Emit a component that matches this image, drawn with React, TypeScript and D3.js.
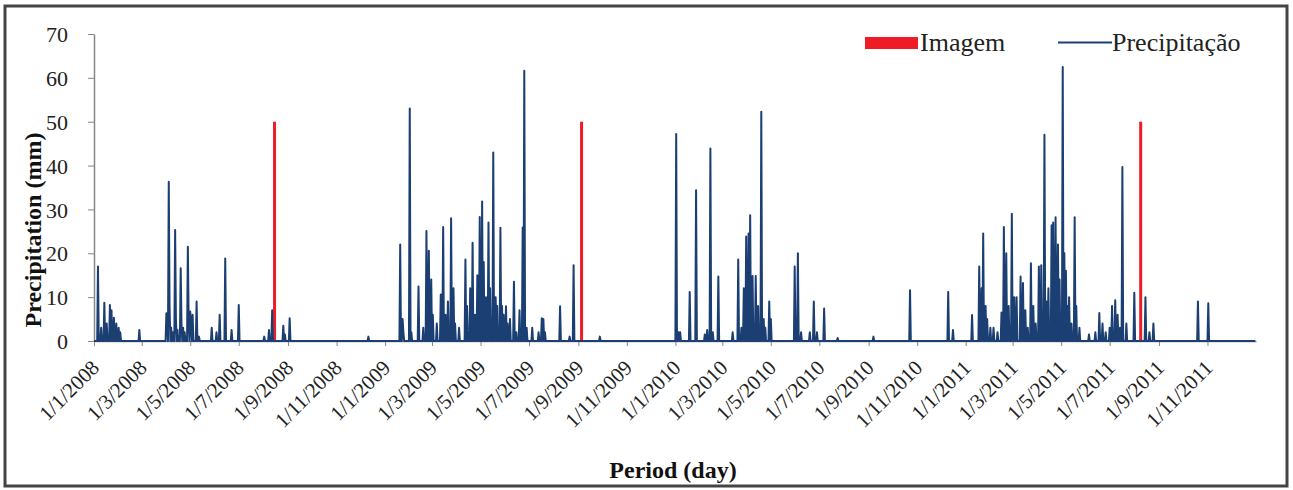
import React, { useEffect, useRef } from "react";
import * as d3 from "d3";

// daily precipitation (mm), only the rainy days are listed, every other day is 0
const rain2008Dates = ["2008-01-06", "2008-01-10", "2008-01-14", "2008-01-17", "2008-01-21", "2008-01-23", "2008-01-26", "2008-01-29", "2008-02-01", "2008-02-03", "2008-02-27", "2008-04-01", "2008-04-02", "2008-04-04", "2008-04-05", "2008-04-07", "2008-04-09", "2008-04-12", "2008-04-13", "2008-04-15", "2008-04-19", "2008-04-20", "2008-04-22", "2008-04-24", "2008-04-28", "2008-04-29", "2008-05-01", "2008-05-02", "2008-05-04", "2008-05-09", "2008-05-12", "2008-05-28", "2008-06-03", "2008-06-07", "2008-06-14", "2008-06-22", "2008-07-01", "2008-08-02", "2008-08-08", "2008-08-12", "2008-08-26", "2008-08-28", "2008-09-03", "2008-12-11"];
const rain2008Values = [17, 3, 8.7, 4, 8.2, 7, 5.3, 4, 3, 2, 2.5, 6.3, 4, 36.3, 8, 3, 2, 25.3, 5, 2.5, 16.6, 4, 3, 2, 21.5, 5, 6.7, 4, 6, 9, 1, 3, 2, 6, 18.8, 2.5, 8.2, 1, 2.5, 7, 3.5, 1.5, 5.2, 1];

const rain2009Dates = ["2009-01-20", "2009-01-23", "2009-01-24", "2009-02-01", "2009-02-03", "2009-02-12", "2009-02-18", "2009-02-22", "2009-02-25", "2009-02-28", "2009-03-02", "2009-03-07", "2009-03-12", "2009-03-15", "2009-03-18", "2009-03-21", "2009-03-25", "2009-03-28", "2009-03-30", "2009-04-04", "2009-04-12", "2009-04-14", "2009-04-18", "2009-04-21", "2009-04-24", "2009-04-27", "2009-04-30", "2009-05-03", "2009-05-05", "2009-05-08", "2009-05-11", "2009-05-13", "2009-05-17", "2009-05-20", "2009-05-22", "2009-05-26", "2009-05-28", "2009-05-30", "2009-06-02", "2009-06-04", "2009-06-07", "2009-06-12", "2009-06-15", "2009-06-19", "2009-06-23", "2009-06-25", "2009-06-28", "2009-07-05", "2009-07-13", "2009-07-17", "2009-07-19", "2009-07-21", "2009-08-09", "2009-08-21", "2009-08-26", "2009-09-28"];
const rain2009Values = [22, 5, 2, 53, 2, 12.4, 3, 25.1, 20.6, 14, 6, 4, 10.6, 26, 6, 9, 28, 12, 4, 3, 18.6, 8, 12, 22.4, 6, 15, 28.3, 31.8, 18, 10, 27, 12, 43, 10, 8, 25.8, 8, 6, 7.9, 4, 5, 13.5, 2, 7, 25.9, 61.6, 3, 3, 2, 5.2, 5, 2, 7.9, 1, 17.3, 1];

const rain2010Dates = ["2010-01-02", "2010-01-05", "2010-01-07", "2010-01-19", "2010-01-27", "2010-02-07", "2010-02-10", "2010-02-14", "2010-02-17", "2010-02-24", "2010-03-14", "2010-03-21", "2010-03-25", "2010-03-28", "2010-03-31", "2010-04-03", "2010-04-05", "2010-04-08", "2010-04-12", "2010-04-15", "2010-04-19", "2010-04-22", "2010-04-24", "2010-04-29", "2010-05-01", "2010-05-31", "2010-06-04", "2010-06-08", "2010-06-19", "2010-06-24", "2010-06-28", "2010-07-07", "2010-07-24", "2010-09-07", "2010-10-23", "2010-12-10", "2010-12-16"];
const rain2010Values = [47.2, 2, 2, 11.2, 34.4, 1.5, 2.5, 43.9, 2, 14.7, 2, 18.6, 3, 12, 23.8, 24.5, 28.7, 14.8, 14.8, 8, 52.3, 5, 3, 9, 5, 17, 20, 2, 2, 9, 2, 7.4, 0.7, 1, 11.6, 11.2, 2.5];

const rain2011Dates = ["2011-01-09", "2011-01-18", "2011-01-21", "2011-01-23", "2011-01-26", "2011-01-28", "2011-02-01", "2011-02-05", "2011-02-10", "2011-02-15", "2011-02-18", "2011-02-21", "2011-02-24", "2011-02-28", "2011-03-03", "2011-03-06", "2011-03-11", "2011-03-14", "2011-03-17", "2011-03-20", "2011-03-24", "2011-03-27", "2011-03-30", "2011-04-03", "2011-04-06", "2011-04-10", "2011-04-13", "2011-04-15", "2011-04-19", "2011-04-21", "2011-04-24", "2011-04-27", "2011-04-29", "2011-05-03", "2011-05-05", "2011-05-07", "2011-05-09", "2011-05-11", "2011-05-14", "2011-05-18", "2011-05-20", "2011-05-24", "2011-06-05", "2011-06-13", "2011-06-18", "2011-06-22", "2011-06-26", "2011-07-01", "2011-07-04", "2011-07-08", "2011-07-11", "2011-07-14", "2011-07-17", "2011-07-22", "2011-08-01", "2011-08-15", "2011-08-20", "2011-08-25", "2011-10-20", "2011-11-02"];
const rain2011Values = [5.9, 17, 12, 24.5, 8, 5, 3, 3, 2, 6.5, 26, 20, 8, 29, 10, 10, 14.7, 13.2, 7, 3, 17.7, 8, 4, 17, 17.3, 47, 9, 12, 26.4, 27, 28.2, 22, 14, 62.5, 20, 16, 8, 10, 4, 28.2, 8, 3, 1.5, 2, 6.4, 4, 2, 3, 8, 9.3, 6, 3, 39.7, 4, 11, 10, 2, 4, 9, 8.6];

// dates of the images
const imageDates = ["2008-08-15", "2009-09-05", "2011-08-09"];
const imageValues = [50, 50, 50];

const xTickLabels = ["1/1/2008", "1/3/2008", "1/5/2008", "1/7/2008", "1/9/2008", "1/11/2008", "1/1/2009", "1/3/2009", "1/5/2009", "1/7/2009", "1/9/2009", "1/11/2009", "1/1/2010", "1/3/2010", "1/5/2010", "1/7/2010", "1/9/2010", "1/11/2010", "1/1/2011", "1/3/2011", "1/5/2011", "1/7/2011", "1/9/2011", "1/11/2011"];
const yTicks = [0, 10, 20, 30, 40, 50, 60, 70];
const seriesNames = ["Imagem", "Precipitação"];

const FONT = '"Liberation Serif", "Times New Roman", Times, serif';
const LINE_COLOR = "#1B3F73";
const RED = "#EE1C25";

export default function App() {
  const ref = useRef<SVGSVGElement>(null);

  useEffect(() => {
    const svg = d3.select(ref.current);
    svg.selectAll("*").remove();

    const parse = d3.timeParse("%Y-%m-%d");
    const parseTick = d3.timeParse("%d/%m/%Y");
    const key = d3.timeFormat("%Y-%m-%d");
    const start = parse("2008-01-01") as Date;
    const end = parse("2012-01-01") as Date;

    const x = d3.scaleTime().domain([start, end]).range([94, 1256]);
    const y = d3.scaleLinear().domain([0, 70]).range([341, 34]);

    // build the daily series
    const rain = new Map<string, number>();
    const allDates = [...rain2008Dates, ...rain2009Dates, ...rain2010Dates, ...rain2011Dates];
    const allValues = [...rain2008Values, ...rain2009Values, ...rain2010Values, ...rain2011Values];
    allDates.forEach((d, i) => rain.set(d, allValues[i]));
    const daily = d3.timeDay.range(start, end).map((d) => ({ date: d, value: rain.get(key(d)) ?? 0 }));

    // background + frame
    svg.append("rect").attr("width", 1293).attr("height", 490).attr("fill", "#fff");
    svg.append("rect")
      .attr("x", 5).attr("y", 6).attr("width", 1282).attr("height", 480)
      .attr("fill", "none").attr("stroke", "#444").attr("stroke-width", 3);

    // y axis
    const yAxis = svg.append("g")
      .attr("transform", "translate(94,0)")
      .call(d3.axisLeft(y).tickValues(yTicks).tickSize(6).tickSizeOuter(0).tickFormat(d3.format("d")));
    yAxis.select(".domain").attr("stroke", "#868686").attr("stroke-width", 1.5);
    yAxis.selectAll(".tick line").attr("stroke", "#868686");
    yAxis.selectAll(".tick text")
      .attr("x", -26).attr("dy", "0.35em")
      .style("font-family", FONT).style("font-size", "22px").attr("fill", "#222");

    // x axis
    const tickDates = xTickLabels.map((t) => parseTick(t) as Date);
    const xAxis = svg.append("g")
      .attr("transform", "translate(0,341)")
      .call(d3.axisBottom(x).tickValues(tickDates).tickSize(5).tickSizeOuter(0)
        .tickFormat((d, i) => xTickLabels[i]));
    xAxis.select(".domain").attr("stroke", "#868686").attr("stroke-width", 1.5);
    xAxis.selectAll(".tick line").attr("stroke", "#868686");
    xAxis.selectAll(".tick text")
      .attr("x", 0).attr("y", 0).attr("dy", 0)
      .attr("text-anchor", "end")
      .attr("transform", "translate(6,28) rotate(-45)")
      .style("font-family", FONT).style("font-size", "21px").attr("fill", "#222");

    // image bars
    svg.append("g")
      .selectAll("rect")
      .data(imageDates.map((d, i) => ({ date: parse(d) as Date, value: imageValues[i] })))
      .join("rect")
      .attr("x", (d) => x(d.date) - 1.5)
      .attr("y", (d) => y(d.value))
      .attr("width", 3)
      .attr("height", (d) => y(0) - y(d.value))
      .attr("fill", RED);

    // precipitation line
    const line = d3.line<{ date: Date; value: number }>()
      .x((d) => x(d.date))
      .y((d) => y(d.value));
    svg.append("path")
      .datum(daily)
      .attr("d", line)
      .attr("fill", "none")
      .attr("stroke", LINE_COLOR)
      .attr("stroke-width", 2)
      .attr("stroke-linejoin", "round");

    // axis titles
    svg.append("text")
      .attr("transform", "translate(41,230) rotate(-90)")
      .attr("text-anchor", "middle")
      .style("font-family", FONT).style("font-weight", "bold").style("font-size", "24px")
      .attr("fill", "#111")
      .text("Precipitation (mm)");
    svg.append("text")
      .attr("x", 673).attr("y", 478)
      .attr("text-anchor", "middle")
      .style("font-family", FONT).style("font-weight", "bold").style("font-size", "24px")
      .attr("fill", "#111")
      .text("Period (day)");

    // legend
    const legend = svg.append("g");
    legend.append("rect").attr("x", 865).attr("y", 37).attr("width", 53).attr("height", 12).attr("fill", RED);
    legend.append("text").attr("x", 920).attr("y", 51)
      .style("font-family", FONT).style("font-size", "26px").attr("fill", "#222").text(seriesNames[0]);
    legend.append("line").attr("x1", 1058).attr("x2", 1112).attr("y1", 42.5).attr("y2", 42.5)
      .attr("stroke", LINE_COLOR).attr("stroke-width", 2);
    legend.append("text").attr("x", 1112).attr("y", 51)
      .style("font-family", FONT).style("font-size", "26px").attr("fill", "#222").text(seriesNames[1]);
  }, []);

  return (
    <svg
      ref={ref}
      width={1293}
      height={490}
      style={{ position: "absolute", left: 0, top: 0, display: "block" }}
    />
  );
}
